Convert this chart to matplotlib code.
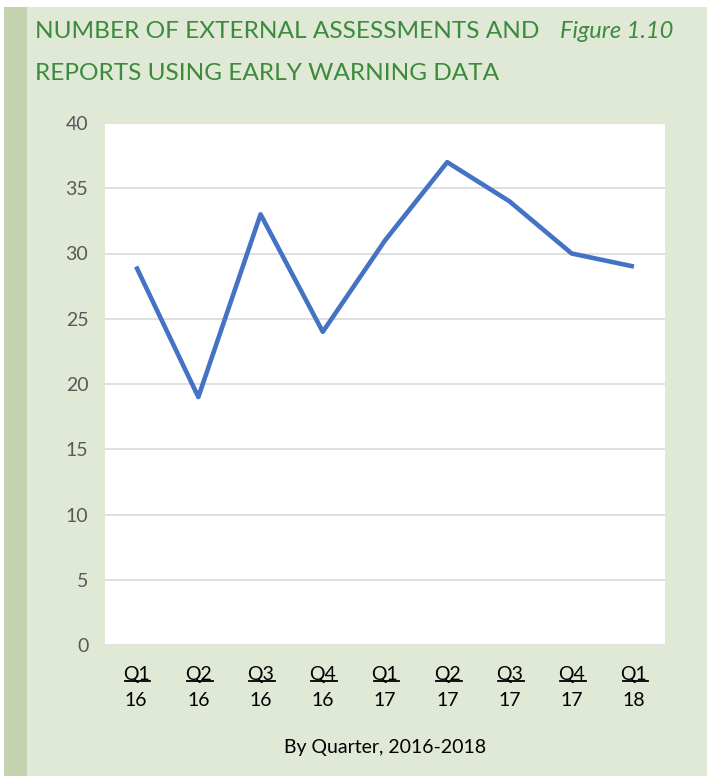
import matplotlib.pyplot as plt
import matplotlib.patches as patches
from matplotlib.lines import Line2D
from matplotlib.transforms import blended_transform_factory

quarters = ['Q1', 'Q2', 'Q3', 'Q4', 'Q1', 'Q2', 'Q3', 'Q4', 'Q1']
years = ['16', '16', '16', '16', '17', '17', '17', '17', '18']
counts = [29, 19, 33, 24, 31, 37, 34, 30, 29]

plt.rcParams['font.family'] = ['Lato', 'DejaVu Sans']

bg = '#e0e8d6'
green = '#3c8a3c'
W, H = 707, 776

fig = plt.figure(figsize=(W / 100, H / 100), dpi=100)
fig.patch.set_facecolor('white')
# light green panel and darker left strip
fig.add_artist(patches.Rectangle((4/W, 0), 703/W, 1 - 7/H, transform=fig.transFigure,
                                 facecolor=bg, edgecolor='none', zorder=0))
fig.add_artist(patches.Rectangle((4/W, 0), 23/W, 1 - 7/H, transform=fig.transFigure,
                                 facecolor='#c3d3ad', edgecolor='none', zorder=0))

fig.text(35/W, 1 - 32/H, 'NUMBER OF EXTERNAL ASSESSMENTS AND', color=green,
         fontsize=17.6, va='center', ha='left')
fig.text(560/W, 1 - 32/H, 'Figure 1.10', color=green, fontsize=17,
         style='italic', va='center', ha='left')
fig.text(35/W, 1 - 73/H, 'REPORTS USING EARLY WARNING DATA', color=green,
         fontsize=17.6, va='center', ha='left')

ax = fig.add_axes([105/W, 1 - 645/H, 560/W, 522/H])
ax.set_facecolor('white')
x = list(range(len(counts)))
ax.plot(x, counts, color='#4472c4', linewidth=3.3, solid_capstyle='butt', zorder=3)
ax.set_xlim(-0.5, len(counts) - 0.5)
ax.set_ylim(0, 40)
ax.set_yticks(range(0, 41, 5))
ax.yaxis.grid(True, color='#d9d9d9', linewidth=1.2)
ax.set_axisbelow(True)
for s in ax.spines.values():
    s.set_visible(False)
ax.tick_params(axis='y', length=0, pad=12, labelsize=14, labelcolor='#595959')
ax.tick_params(axis='x', length=0, pad=15, labelsize=14, labelcolor='black')
ax.set_xticks(x)
ax.set_xticklabels(quarters)

trans = blended_transform_factory(ax.transData, ax.transAxes)
for xi, yr in zip(x, years):
    ax.text(xi, -56/522, yr, transform=trans, ha='center', va='center',
            fontsize=14, color='black')
fig.text((105 + 280)/W, 1 - 747/H, 'By Quarter, 2016-2018', fontsize=14,
         ha='center', va='center', color='black')

# underline quarter labels
fig.canvas.draw()
for lab in ax.get_xticklabels():
    bb = lab.get_window_extent()
    yline = (bb.y0 + 2) / H
    fig.add_artist(Line2D([(bb.x0 + 2) / W, (bb.x1 + 1) / W], [yline, yline],
                          transform=fig.transFigure, color='black', linewidth=1.3))

fig.savefig('out.png', dpi=100, facecolor=fig.get_facecolor())
